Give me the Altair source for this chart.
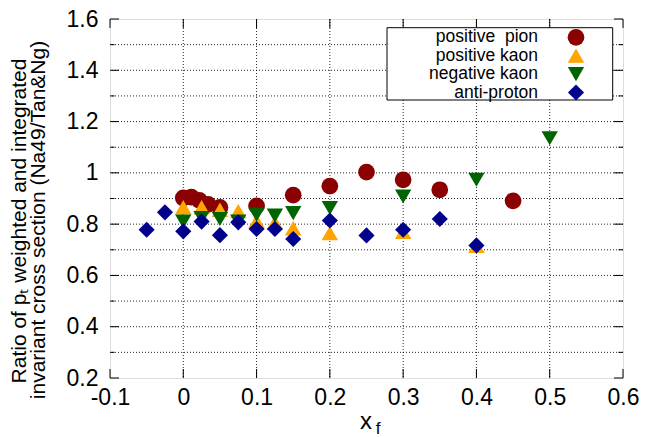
import altair as alt
import pandas as pd

FONT = "Liberation Sans"

# ---------------- data ----------------
series_names = ["positive\u00a0 pion", "positive kaon", "negative kaon", "anti-proton"]
series_colors = ["#8B0000", "#FFA500", "#006400", "#00008B"]
series_shapes = ["circle", "triangle-up", "triangle-down", "diamond"]
series_sizes = [280, 260, 260, 280]

pion_x = [0, 0.011, 0.022, 0.034, 0.05, 0.1, 0.15, 0.2, 0.25, 0.3, 0.35, 0.45]
pion_y = [0.902, 0.905, 0.893, 0.877, 0.865, 0.871, 0.913, 0.948, 1.003, 0.973, 0.934, 0.891]

kplus_x = [0, 0.025, 0.05, 0.075, 0.1, 0.125, 0.15, 0.2, 0.3, 0.4]
kplus_y = [0.866, 0.866, 0.856, 0.851, 0.812, 0.806, 0.784, 0.765, 0.77, 0.715]

kminus_x = [0, 0.025, 0.05, 0.075, 0.1, 0.125, 0.15, 0.2, 0.3, 0.4, 0.5]
kminus_y = [0.81, 0.824, 0.82, 0.81, 0.837, 0.833, 0.843, 0.863, 0.908, 0.973, 1.135]

pbar_x = [-0.05, -0.025, 0, 0.025, 0.05, 0.075, 0.1, 0.125, 0.15, 0.2, 0.25, 0.3, 0.35, 0.4]
pbar_y = [0.778, 0.846, 0.772, 0.81, 0.757, 0.807, 0.781, 0.781, 0.742, 0.814, 0.756, 0.778, 0.82, 0.717]

x_ticks = [-0.1, 0, 0.1, 0.2, 0.3, 0.4, 0.5, 0.6]
y_major = [0.2, 0.4, 0.6, 0.8, 1.0, 1.2, 1.4, 1.6]
y_minor = [0.3, 0.5, 0.7, 0.9, 1.1, 1.3, 1.5]
x_grid = [0, 0.1, 0.2, 0.3, 0.4, 0.5]
y_grid = [0.3, 0.4, 0.5, 0.6, 0.7, 0.8, 0.9, 1.0, 1.1, 1.2, 1.3, 1.4, 1.5]

# ---------------- layout ----------------
W, H = 513, 359

rows = []
for name, xs, ys in zip(series_names, [pion_x, kplus_x, kminus_x, pbar_x],
                        [pion_y, kplus_y, kminus_y, pbar_y]):
    for xv, yv in zip(xs, ys):
        rows.append({"series": name, "x": xv, "y": yv})
df = pd.DataFrame(rows)

xscale = alt.Scale(domain=[-0.1, 0.6], nice=False, zero=False)
yscale = alt.Scale(domain=[0.2, 1.6], nice=False, zero=False)

xaxis = alt.Axis(values=x_ticks, format="~g", labelExpr="replace(datum.label, '\u2212', '-')",
                 title=None, grid=False, ticks=False, tickSize=0, domain=False,
                 labelFont=FONT, labelFontSize=23, labelColor="black", labelPadding=8,
                 labelFlush=False, labelOverlap=False)
yaxis = alt.Axis(values=y_major, format="~g", title=None, grid=False, ticks=False,
                 tickSize=0, domain=False, labelFont=FONT, labelFontSize=23,
                 labelColor="black", labelPadding=12, labelFlush=False, labelOverlap=False)


def X(field):
    return alt.X(field, type="quantitative", scale=xscale, axis=xaxis)


def Y(field):
    return alt.Y(field, type="quantitative", scale=yscale, axis=yaxis)


color_scale = alt.Scale(domain=series_names, range=series_colors)
shape_scale = alt.Scale(domain=series_names, range=series_shapes)
size_scale = alt.Scale(domain=series_names, range=series_sizes)

grid_style = dict(color="black", strokeDash=[1, 2], strokeWidth=1, opacity=0.85)

gx = alt.Chart(pd.DataFrame({"v": x_grid})).mark_rule(**grid_style).encode(x=X("v"))
gy = alt.Chart(pd.DataFrame({"v": y_grid})).mark_rule(**grid_style).encode(y=Y("v"))

tick_style = dict(color="black", strokeWidth=1)
xt_df = pd.DataFrame({"v": x_ticks})
ymaj_df = pd.DataFrame({"v": y_major})
ymin_df = pd.DataFrame({"v": y_minor})
MAJ, MIN = 9, 4.5

tick_layers = [
    alt.Chart(xt_df).mark_rule(**tick_style).encode(x=X("v"), y=alt.value(H - MAJ), y2=alt.value(H)),
    alt.Chart(xt_df).mark_rule(**tick_style).encode(x=X("v"), y=alt.value(0), y2=alt.value(MAJ)),
    alt.Chart(ymaj_df).mark_rule(**tick_style).encode(y=Y("v"), x=alt.value(0), x2=alt.value(MAJ)),
    alt.Chart(ymaj_df).mark_rule(**tick_style).encode(y=Y("v"), x=alt.value(W - MAJ), x2=alt.value(W)),
    alt.Chart(ymin_df).mark_rule(**tick_style).encode(y=Y("v"), x=alt.value(0), x2=alt.value(MIN)),
    alt.Chart(ymin_df).mark_rule(**tick_style).encode(y=Y("v"), x=alt.value(W - MIN), x2=alt.value(W)),
]

points = alt.Chart(df).mark_point(filled=True, opacity=1, strokeWidth=0).encode(
    x=X("x"),
    y=Y("y"),
    color=alt.Color("series:N", scale=color_scale, legend=None),
    shape=alt.Shape("series:N", scale=shape_scale, legend=None),
    size=alt.Size("series:N", scale=size_scale, legend=None),
)

# ---------------- legend (drawn by hand: labels left of symbols) ----------------
leg_box = alt.Chart(pd.DataFrame({"a": [0]})).mark_rect(
    fill="white", stroke="black", strokeWidth=1).encode(
    x=alt.value(277), x2=alt.value(502.7), y=alt.value(8.7), y2=alt.value(81))

leg_layers = [leg_box]
for i, name in enumerate(series_names):
    ldf = pd.DataFrame({"series": [name]})
    ypix = 18.3 + i * 18.4
    leg_layers.append(
        alt.Chart(ldf).mark_text(align="right", baseline="middle", font=FONT,
                                 fontSize=17.5, color="black").encode(
            x=alt.value(428), y=alt.value(ypix), text="series:N"))
    leg_layers.append(
        alt.Chart(ldf).mark_point(filled=True, opacity=1, strokeWidth=0).encode(
            x=alt.value(466), y=alt.value(ypix),
            color=alt.Color("series:N", scale=color_scale, legend=None),
            shape=alt.Shape("series:N", scale=shape_scale, legend=None),
            size=alt.Size("series:N", scale=size_scale, legend=None)))

# ---------------- axis titles ----------------
title_df = pd.DataFrame({
    "t": ["Ratio of p\u209c weighted and integrated",
          "invariant cross section (Na49/Tan&Ng)"],
})
yt1 = alt.Chart(title_df.iloc[[0]]).mark_text(
    angle=270, align="center", baseline="middle", font=FONT, fontSize=21, color="black"
).encode(x=alt.value(-90), y=alt.value(202), text="t:N")
yt2 = alt.Chart(title_df.iloc[[1]]).mark_text(
    angle=270, align="center", baseline="middle", font=FONT, fontSize=21, color="black"
).encode(x=alt.value(-71), y=alt.value(201), text="t:N")

xt_main = alt.Chart(pd.DataFrame({"t": ["x"]})).mark_text(
    align="center", baseline="middle", font=FONT, fontSize=24, color="black"
).encode(x=alt.value(256), y=alt.value(403), text="t:N")
xt_sub = alt.Chart(pd.DataFrame({"t": ["f"]})).mark_text(
    align="center", baseline="middle", font=FONT, fontSize=17, color="black"
).encode(x=alt.value(268), y=alt.value(410), text="t:N")

chart = alt.layer(
    gx, gy, *tick_layers, points, *leg_layers, yt1, yt2, xt_main, xt_sub
).properties(
    width=W, height=H,
    autosize=alt.AutoSizeParams(type="none"),
    padding={"left": 102, "top": 11, "right": 16, "bottom": 58},
).configure_view(
    stroke="black", strokeWidth=1
).configure(
    background="white"
)

chart.save("out.html", embed_options={"renderer": "svg", "actions": False})
